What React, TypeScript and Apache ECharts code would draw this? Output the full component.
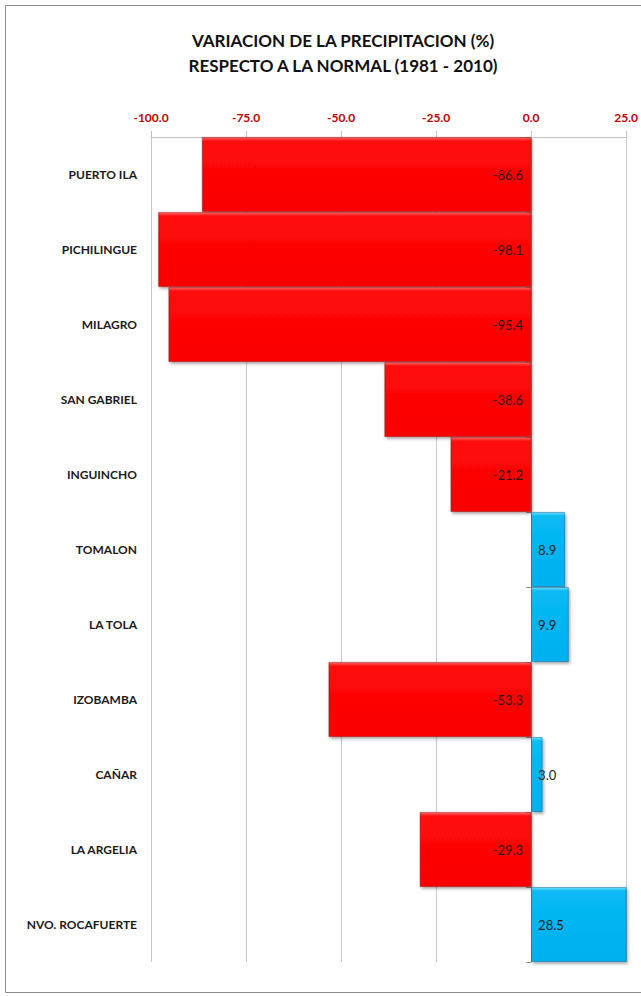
import React, { useEffect, useRef } from "react";
import * as echarts from "echarts";

const categories = [
  "PUERTO ILA",
  "PICHILINGUE",
  "MILAGRO",
  "SAN GABRIEL",
  "INGUINCHO",
  "TOMALON",
  "LA TOLA",
  "IZOBAMBA",
  "CAÑAR",
  "LA ARGELIA",
  "NVO. ROCAFUERTE",
];
const values = [-86.6, -98.1, -95.4, -38.6, -21.2, 8.9, 9.9, -53.3, 3.0, -29.3, 28.5];
const titleLines = ["VARIACION DE LA PRECIPITACION (%)", "RESPECTO A LA NORMAL (1981 - 2010)"];

const FONT = "Lato, 'Open Sans', sans-serif";

export default function App() {
  const ref = useRef<HTMLDivElement>(null);
  useEffect(() => {
    if (!ref.current) return;
    const chart = echarts.init(ref.current, null, { renderer: "svg" });
    const redFill = new echarts.graphic.LinearGradient(0, 0, 0, 1, [
      { offset: 0, color: "#ff6a6a" },
      { offset: 0.05, color: "#ff0a0a" },
      { offset: 1, color: "#fa0000" },
    ]);
    const blueFill = new echarts.graphic.LinearGradient(0, 0, 0, 1, [
      { offset: 0, color: "#6fdcff" },
      { offset: 0.05, color: "#08baf3" },
      { offset: 1, color: "#00b0ef" },
    ]);
    const data = values.map((v) => ({
      value: v,
      itemStyle: {
        color: v < 0 ? redFill : blueFill,
        borderColor: v < 0 ? "rgba(150,0,0,0.6)" : "rgba(0,90,140,0.6)",
        borderWidth: 0.8,
        shadowColor: "rgba(0,0,0,0.35)",
        shadowBlur: 3,
        shadowOffsetX: 1.5,
        shadowOffsetY: 2,
      },
      label: {
        position: v < 0 ? "insideRight" : "insideLeft",
        distance: v < 0 ? 8 : 7,
      },
    }));
    chart.setOption({
      animation: false,
      backgroundColor: "#ffffff",
      textStyle: { fontFamily: FONT },
      graphic: [
        {
          type: "rect",
          shape: { x: 5.5, y: 5.5, width: 660, height: 987 },
          style: { fill: "none", stroke: "#8c8c8c", lineWidth: 1 },
          silent: true,
        },
        {
          type: "text",
          x: 343,
          y: 40,
          style: {
            text: titleLines[0],
            textAlign: "center",
            textVerticalAlign: "middle",
            font: `bold 17px ${FONT}`,
            fill: "#111111",
          },
        },
        {
          type: "text",
          x: 343,
          y: 65,
          style: {
            text: titleLines[1],
            textAlign: "center",
            textVerticalAlign: "middle",
            font: `bold 17px ${FONT}`,
            fill: "#111111",
          },
        },
      ],
      grid: { left: 151, top: 137, width: 478, height: 825, containLabel: false },
      xAxis: {
        type: "value",
        position: "top",
        min: -100,
        max: 25,
        interval: 25,
        axisLine: { show: true, lineStyle: { color: "#bfbfbf", width: 1 } },
        axisTick: { show: true, length: 6, lineStyle: { color: "#bfbfbf" } },
        splitLine: { show: true, lineStyle: { color: "#c8c8c8", width: 1 } },
        axisLabel: {
          formatter: (v: number) => v.toFixed(1),
          color: "#c00000",
          fontWeight: "bold",
          fontSize: 12,
          margin: 14,
          fontFamily: FONT,
        },
      },
      yAxis: [
        {
          type: "category",
          data: categories,
          inverse: true,
          position: "left",
          axisLine: { show: false, onZero: false },
          axisTick: { show: false },
          axisLabel: {
            color: "#1a1a1a",
            fontWeight: "bold",
            fontSize: 12,
            margin: 14,
            fontFamily: FONT,
          },
        },
        {
          type: "category",
          data: categories,
          inverse: true,
          position: "left",
          axisLine: { show: true, onZero: true, lineStyle: { color: "#8c8c8c", width: 1 } },
          axisTick: { show: true, length: 5, lineStyle: { color: "#8c8c8c" } },
          axisLabel: { show: false },
        },
      ],
      series: [
        {
          type: "bar",
          yAxisIndex: 0,
          data,
          barCategoryGap: 0,
          barWidth: "100%",
          label: {
            show: true,
            formatter: (p: any) => Number(p.value).toFixed(1),
            color: "#1a1a1a",
            fontSize: 13,
            fontFamily: FONT,
          },
        },
      ],
    });
    return () => chart.dispose();
  }, []);
  return (
    <div
      ref={ref}
      style={{ position: "absolute", left: 0, top: 0, width: 641, height: 996 }}
    />
  );
}
